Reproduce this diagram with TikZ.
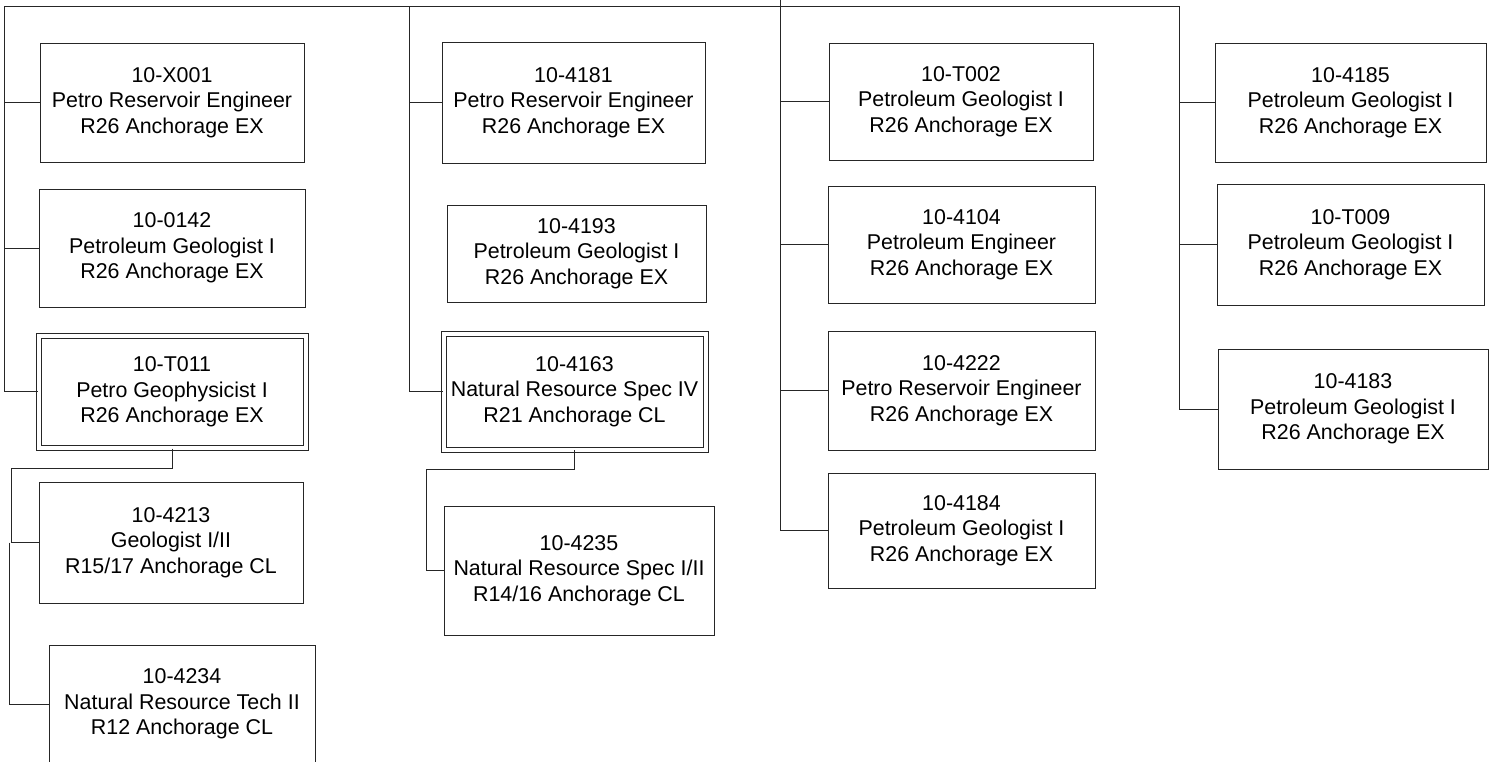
\documentclass[tikz,border=0pt]{standalone}
\usepackage{fontspec}
\setmainfont{Liberation Sans}
\usetikzlibrary{calc}
\tikzset{
  posbox/.style={draw=black!85, line width=1pt, rectangle, inner sep=0pt, align=center,
    text=black, font=\fontsize{21.4}{25.5}\selectfont},
  dblbox/.style={posbox, double=white, double distance=4pt},
  link/.style={draw=black!85, line width=1pt}
}
\begin{document}
\begin{tikzpicture}[x=1pt, y=-1pt]
\useasboundingbox (0,0) rectangle (1491,761);
% column 1
\node[posbox, minimum width=264pt, minimum height=119pt] (x001) at (172,102.5) {10-X001\\Petro Reservoir Engineer\\R26 Anchorage EX};
\node[posbox, minimum width=266pt, minimum height=118pt] (n0142) at (172,248) {10-0142\\Petroleum Geologist I\\R26 Anchorage EX};
\node[dblbox, minimum width=267pt, minimum height=112.5pt] (t011) at (172,391.75) {10-T011\\Petro Geophysicist I\\R26 Anchorage EX};
\node[posbox, minimum width=264pt, minimum height=121pt] (n4213) at (171,542.5) {10-4213\\Geologist I/II\\R15/17 Anchorage CL};
\node[posbox, minimum width=266pt, minimum height=118pt] (n4234) at (182,704) {10-4234\\Natural Resource Tech II\\R12 Anchorage CL};
% column 2
\node[posbox, minimum width=263pt, minimum height=121pt] (n4181) at (573.5,102.5) {10-4181\\Petro Reservoir Engineer\\R26 Anchorage EX};
\node[posbox, minimum width=259pt, minimum height=97pt] (n4193) at (576.5,253.5) {10-4193\\Petroleum Geologist I\\R26 Anchorage EX};
\node[dblbox, minimum width=262pt, minimum height=116pt] (n4163) at (574.5,391.5) {10-4163\\Natural Resource Spec IV\\R21 Anchorage CL};
\node[posbox, minimum width=270pt, minimum height=129pt] (n4235) at (579,570.5) {10-4235\\Natural Resource Spec I/II\\R14/16 Anchorage CL};
% column 3
\node[posbox, minimum width=264pt, minimum height=117pt] (t002) at (961,101.5) {10-T002\\Petroleum Geologist I\\R26 Anchorage EX};
\node[posbox, minimum width=267pt, minimum height=117pt] (n4104) at (961.5,244.5) {10-4104\\Petroleum Engineer\\R26 Anchorage EX};
\node[posbox, minimum width=267pt, minimum height=119pt] (n4222) at (961.5,390.5) {10-4222\\Petro Reservoir Engineer\\R26 Anchorage EX};
\node[posbox, minimum width=267pt, minimum height=115pt] (n4184) at (961.5,530.5) {10-4184\\Petroleum Geologist I\\R26 Anchorage EX};
% column 4
\node[posbox, minimum width=271pt, minimum height=119pt] (n4185) at (1350.5,102.5) {10-4185\\Petroleum Geologist I\\R26 Anchorage EX};
\node[posbox, minimum width=267pt, minimum height=121pt] (t009) at (1350.5,244.5) {10-T009\\Petroleum Geologist I\\R26 Anchorage EX};
\node[posbox, minimum width=270pt, minimum height=120pt] (n4183) at (1353,409) {10-4183\\Petroleum Geologist I\\R26 Anchorage EX};
% bus coordinates
\coordinate (root) at (780,0);
\coordinate (bus3) at (780,6);
\coordinate (busL) at (4,6);
\coordinate (bus2) at (409,6);
\coordinate (busR) at (1179,6);
\coordinate (s1) at (11,468);
\coordinate (s2) at (9,542.5);
\coordinate (s3) at (426,469);
% connectors
\draw[link] (busL) -- (busR);
\draw[link] (root) -- (bus3);
\draw[link] (busL) |- (t011.west);
\draw[link] (busL |- x001.west) -- (x001.west);
\draw[link] (busL |- n0142.west) -- (n0142.west);
\draw[link] (t011.south) |- (s1) |- (n4213.west);
\draw[link] (s2) |- (n4234.west);
\draw[link] (bus2) |- (n4163.west);
\draw[link] (bus2 |- n4181.west) -- (n4181.west);
\draw[link] (n4163.south) |- (s3) |- (n4235.west);
\draw[link] (bus3) |- (n4184.west);
\draw[link] (bus3 |- t002.west) -- (t002.west);
\draw[link] (bus3 |- n4104.west) -- (n4104.west);
\draw[link] (bus3 |- n4222.west) -- (n4222.west);
\draw[link] (busR) |- (n4183.west);
\draw[link] (busR |- n4185.west) -- (n4185.west);
\draw[link] (busR |- t009.west) -- (t009.west);
\end{tikzpicture}
\end{document}
